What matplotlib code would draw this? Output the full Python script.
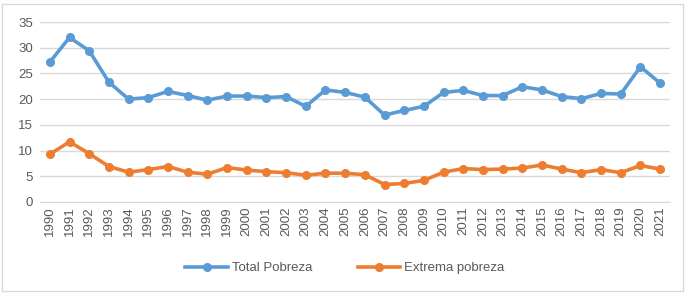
import matplotlib
matplotlib.use("Agg")
import matplotlib.pyplot as plt
from matplotlib.patches import Rectangle

years = [str(y) for y in range(1990, 2022)]
total_pobreza = [27.2, 32.0, 29.4, 23.3, 20.0, 20.3, 21.5, 20.7, 19.8, 20.6, 20.6, 20.3,
                 20.5, 18.6, 21.8, 21.3, 20.4, 16.9, 17.8, 18.6, 21.3, 21.7, 20.7, 20.7,
                 22.4, 21.8, 20.5, 20.1, 21.1, 21.0, 26.3, 23.1]
extrema_pobreza = [9.3, 11.7, 9.4, 6.9, 5.8, 6.3, 6.9, 5.8, 5.4, 6.7, 6.2, 5.9,
                   5.7, 5.2, 5.6, 5.6, 5.3, 3.4, 3.6, 4.2, 5.8, 6.5, 6.3, 6.4,
                   6.6, 7.2, 6.4, 5.7, 6.3, 5.7, 7.1, 6.4]
yticks = [0, 5, 10, 15, 20, 25, 30, 35]

plt.rcParams['font.family'] = ['Liberation Sans', 'DejaVu Sans']
W, H = 687, 293
fig = plt.figure(figsize=(W / 100, H / 100), dpi=100)
fig.patches.append(Rectangle((2 / W, 2 / H), (W - 6) / W, (H - 6) / H, transform=fig.transFigure,
                             fill=False, edgecolor='#d9d9d9', linewidth=1))
ax = fig.add_axes([40 / W, 1 - 202 / H, 630 / W, 180 / H])

x = list(range(len(years)))
blue = '#5b9bd5'
orange = '#ed7d31'
ax.plot(x, total_pobreza, color=blue, lw=2.6, marker='o', ms=5.5, label='Total Pobreza')
ax.plot(x, extrema_pobreza, color=orange, lw=2.6, marker='o', ms=5.5, label='Extrema pobreza')

ax.set_xlim(-0.5, len(years) - 0.5)
ax.set_ylim(0, 35)
ax.set_yticks(yticks)
ax.set_xticks(x)
ax.set_xticklabels(years, rotation=90)
ax.grid(axis='y', color='#d9d9d9', lw=1)
ax.set_axisbelow(True)
for s in ['top', 'right', 'left']:
    ax.spines[s].set_visible(False)
ax.spines['bottom'].set_color('#d9d9d9')
ax.tick_params(axis='both', length=0, labelsize=9.5, labelcolor='#595959', pad=5)
ax.tick_params(axis='x', pad=3)

leg = fig.legend(loc='center', bbox_to_anchor=(345 / W, 1 - 268 / H), ncol=2, frameon=False,
                 fontsize=9.5, handlelength=3.2, columnspacing=3.5, handletextpad=0.3)
for t in leg.get_texts():
    t.set_color('#595959')

fig.savefig('out.png', dpi=100)
